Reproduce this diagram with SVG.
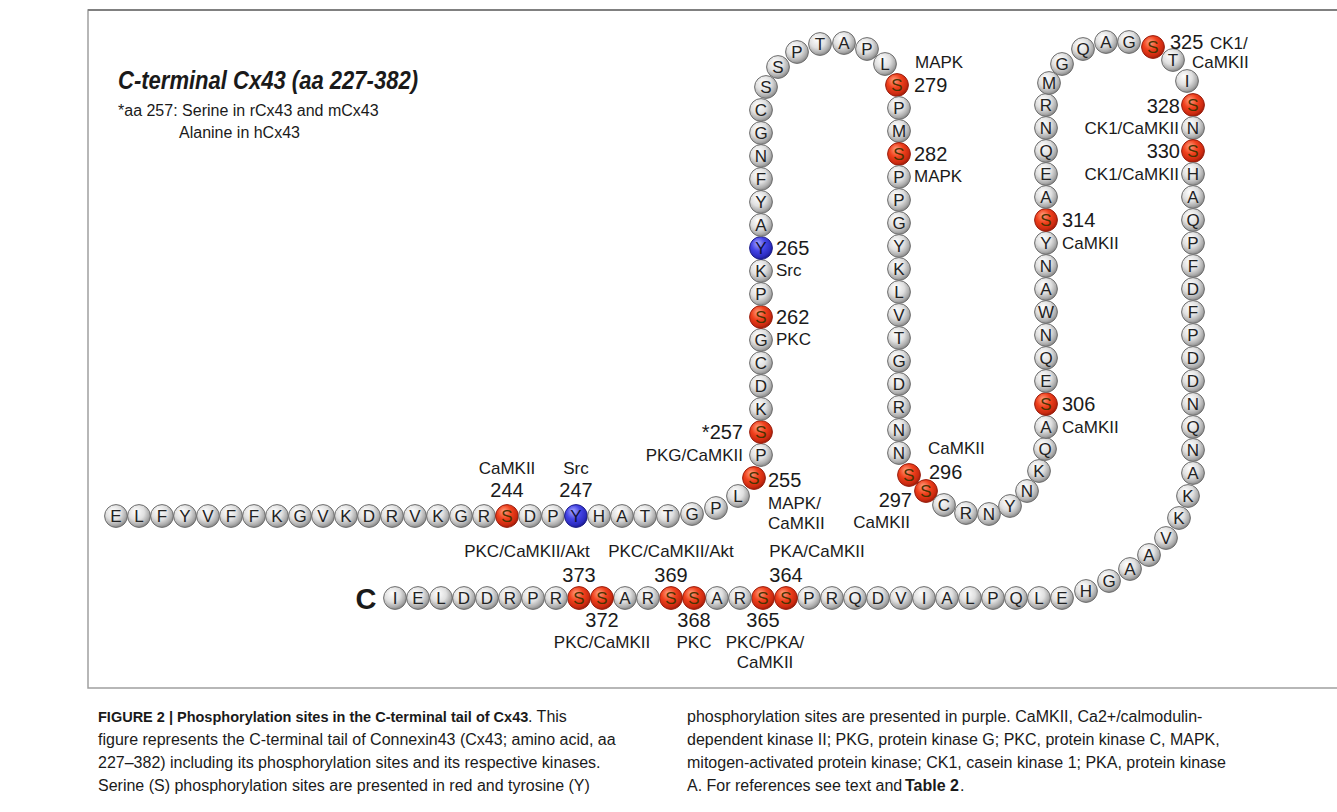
<svg xmlns="http://www.w3.org/2000/svg" width="1337" height="812" viewBox="0 0 1337 812">
<defs>
<radialGradient id="gg" cx="0.42" cy="0.38" r="0.62" fx="0.36" fy="0.28">
<stop offset="0" stop-color="#ffffff"/><stop offset="0.55" stop-color="#e0e0e0"/><stop offset="0.85" stop-color="#aeaeae"/><stop offset="1" stop-color="#888888"/>
</radialGradient>
<radialGradient id="gr" cx="0.42" cy="0.38" r="0.62" fx="0.36" fy="0.28">
<stop offset="0" stop-color="#ffa080"/><stop offset="0.5" stop-color="#f0401c"/><stop offset="0.85" stop-color="#cc2a10"/><stop offset="1" stop-color="#a01c08"/>
</radialGradient>
<radialGradient id="gu" cx="0.42" cy="0.38" r="0.62" fx="0.36" fy="0.28">
<stop offset="0" stop-color="#a8a8ff"/><stop offset="0.5" stop-color="#4444e6"/><stop offset="0.85" stop-color="#2c2cc0"/><stop offset="1" stop-color="#1c1c90"/>
</radialGradient>
</defs>
<style>
text{font-family:"Liberation Sans",Arial,sans-serif;fill:#1a1a1a}
.bd circle{stroke:#6e6e6e;stroke-width:1}
.g circle{fill:url(#gg)}
.r circle{fill:url(#gr);stroke:#9a2010}
.u circle{fill:url(#gu);stroke:#20208a}
.bd text{font-size:17px;text-anchor:middle;fill:#222}
.r text{fill:#4a3200}
.u text{fill:#10103a}
.num{font-size:20px}
.kin{font-size:17px}
.m{text-anchor:middle}
.e{text-anchor:end}
.cap{font-size:16px;fill:#222}
.cap .b{font-weight:bold}
</style>
<rect width="1337" height="812" fill="#ffffff"/>
<path d="M1337 10 H88 V688 H1337" fill="none" stroke="#a0a0a0" stroke-width="1.5"/>
<line x1="88" y1="10" x2="1337" y2="10" stroke="#808080" stroke-width="2"/>
<g id="title">
<text x="118" y="89" font-size="26" font-weight="bold" font-style="italic" textLength="300" lengthAdjust="spacingAndGlyphs">C-terminal Cx43 (aa 227-382)</text>
<text x="118" y="116" font-size="16">*aa 257: Serine in rCx43 and mCx43</text>
<text x="179" y="138" font-size="16">Alanine in hCx43</text>
</g>
<g id="beads">
<g id="aa227" class="bd g"><circle cx="116" cy="516" r="11.4"/><text x="116" y="522">E</text></g>
<g id="aa228" class="bd g"><circle cx="139" cy="516" r="11.4"/><text x="139" y="522">L</text></g>
<g id="aa229" class="bd g"><circle cx="162" cy="516" r="11.4"/><text x="162" y="522">F</text></g>
<g id="aa230" class="bd g"><circle cx="185" cy="516" r="11.4"/><text x="185" y="522">Y</text></g>
<g id="aa231" class="bd g"><circle cx="208" cy="516" r="11.4"/><text x="208" y="522">V</text></g>
<g id="aa232" class="bd g"><circle cx="231" cy="516" r="11.4"/><text x="231" y="522">F</text></g>
<g id="aa233" class="bd g"><circle cx="254" cy="516" r="11.4"/><text x="254" y="522">F</text></g>
<g id="aa234" class="bd g"><circle cx="277" cy="516" r="11.4"/><text x="277" y="522">K</text></g>
<g id="aa235" class="bd g"><circle cx="300" cy="516" r="11.4"/><text x="300" y="522">G</text></g>
<g id="aa236" class="bd g"><circle cx="323" cy="516" r="11.4"/><text x="323" y="522">V</text></g>
<g id="aa237" class="bd g"><circle cx="346" cy="516" r="11.4"/><text x="346" y="522">K</text></g>
<g id="aa238" class="bd g"><circle cx="369" cy="516" r="11.4"/><text x="369" y="522">D</text></g>
<g id="aa239" class="bd g"><circle cx="392" cy="516" r="11.4"/><text x="392" y="522">R</text></g>
<g id="aa240" class="bd g"><circle cx="415" cy="516" r="11.4"/><text x="415" y="522">V</text></g>
<g id="aa241" class="bd g"><circle cx="438" cy="516" r="11.4"/><text x="438" y="522">K</text></g>
<g id="aa242" class="bd g"><circle cx="461" cy="516" r="11.4"/><text x="461" y="522">G</text></g>
<g id="aa243" class="bd g"><circle cx="484" cy="516" r="11.4"/><text x="484" y="522">R</text></g>
<g id="aa244" class="bd r"><circle cx="507" cy="516" r="11.4"/><text x="507" y="522">S</text></g>
<g id="aa245" class="bd g"><circle cx="530" cy="516" r="11.4"/><text x="530" y="522">D</text></g>
<g id="aa246" class="bd g"><circle cx="553" cy="516" r="11.4"/><text x="553" y="522">P</text></g>
<g id="aa247" class="bd u"><circle cx="576" cy="516" r="11.4"/><text x="576" y="522">Y</text></g>
<g id="aa248" class="bd g"><circle cx="599" cy="516" r="11.4"/><text x="599" y="522">H</text></g>
<g id="aa249" class="bd g"><circle cx="622" cy="516" r="11.4"/><text x="622" y="522">A</text></g>
<g id="aa250" class="bd g"><circle cx="645" cy="516" r="11.4"/><text x="645" y="522">T</text></g>
<g id="aa251" class="bd g"><circle cx="668" cy="516" r="11.4"/><text x="668" y="522">T</text></g>
<g id="aa252" class="bd g"><circle cx="692" cy="514" r="11.4"/><text x="692" y="520">G</text></g>
<g id="aa253" class="bd g"><circle cx="716" cy="508" r="11.4"/><text x="716" y="514">P</text></g>
<g id="aa254" class="bd g"><circle cx="738" cy="496" r="11.4"/><text x="738" y="502">L</text></g>
<g id="aa255" class="bd r"><circle cx="754" cy="478" r="11.4"/><text x="754" y="484">S</text></g>
<g id="aa256" class="bd g"><circle cx="761" cy="455" r="11.4"/><text x="761" y="461">P</text></g>
<g id="aa257" class="bd r"><circle cx="761" cy="432" r="11.4"/><text x="761" y="438">S</text></g>
<g id="aa258" class="bd g"><circle cx="761" cy="409" r="11.4"/><text x="761" y="415">K</text></g>
<g id="aa259" class="bd g"><circle cx="761" cy="386" r="11.4"/><text x="761" y="392">D</text></g>
<g id="aa260" class="bd g"><circle cx="761" cy="363" r="11.4"/><text x="761" y="369">C</text></g>
<g id="aa261" class="bd g"><circle cx="761" cy="340" r="11.4"/><text x="761" y="346">G</text></g>
<g id="aa262" class="bd r"><circle cx="761" cy="317" r="11.4"/><text x="761" y="323">S</text></g>
<g id="aa263" class="bd g"><circle cx="761" cy="294" r="11.4"/><text x="761" y="300">P</text></g>
<g id="aa264" class="bd g"><circle cx="761" cy="271" r="11.4"/><text x="761" y="277">K</text></g>
<g id="aa265" class="bd u"><circle cx="761" cy="248" r="11.4"/><text x="761" y="254">Y</text></g>
<g id="aa266" class="bd g"><circle cx="761" cy="225" r="11.4"/><text x="761" y="231">A</text></g>
<g id="aa267" class="bd g"><circle cx="761" cy="202" r="11.4"/><text x="761" y="208">Y</text></g>
<g id="aa268" class="bd g"><circle cx="761" cy="179" r="11.4"/><text x="761" y="185">F</text></g>
<g id="aa269" class="bd g"><circle cx="761" cy="156" r="11.4"/><text x="761" y="162">N</text></g>
<g id="aa270" class="bd g"><circle cx="761" cy="133" r="11.4"/><text x="761" y="139">G</text></g>
<g id="aa271" class="bd g"><circle cx="761" cy="110" r="11.4"/><text x="761" y="116">C</text></g>
<g id="aa272" class="bd g"><circle cx="766" cy="87" r="11.4"/><text x="766" y="93">S</text></g>
<g id="aa273" class="bd g"><circle cx="778" cy="67" r="11.4"/><text x="778" y="73">S</text></g>
<g id="aa274" class="bd g"><circle cx="797" cy="52" r="11.4"/><text x="797" y="58">P</text></g>
<g id="aa275" class="bd g"><circle cx="820" cy="44" r="11.4"/><text x="820" y="50">T</text></g>
<g id="aa276" class="bd g"><circle cx="844" cy="43" r="11.4"/><text x="844" y="49">A</text></g>
<g id="aa277" class="bd g"><circle cx="867" cy="49" r="11.4"/><text x="867" y="55">P</text></g>
<g id="aa278" class="bd g"><circle cx="885" cy="64" r="11.4"/><text x="885" y="70">L</text></g>
<g id="aa279" class="bd r"><circle cx="897" cy="85" r="11.4"/><text x="897" y="91">S</text></g>
<g id="aa280" class="bd g"><circle cx="899" cy="108" r="11.4"/><text x="899" y="114">P</text></g>
<g id="aa281" class="bd g"><circle cx="899" cy="131" r="11.4"/><text x="899" y="137">M</text></g>
<g id="aa282" class="bd r"><circle cx="899" cy="154" r="11.4"/><text x="899" y="160">S</text></g>
<g id="aa283" class="bd g"><circle cx="899" cy="177" r="11.4"/><text x="899" y="183">P</text></g>
<g id="aa284" class="bd g"><circle cx="899" cy="200" r="11.4"/><text x="899" y="206">P</text></g>
<g id="aa285" class="bd g"><circle cx="899" cy="223" r="11.4"/><text x="899" y="229">G</text></g>
<g id="aa286" class="bd g"><circle cx="899" cy="246" r="11.4"/><text x="899" y="252">Y</text></g>
<g id="aa287" class="bd g"><circle cx="899" cy="269" r="11.4"/><text x="899" y="275">K</text></g>
<g id="aa288" class="bd g"><circle cx="899" cy="292" r="11.4"/><text x="899" y="298">L</text></g>
<g id="aa289" class="bd g"><circle cx="899" cy="315" r="11.4"/><text x="899" y="321">V</text></g>
<g id="aa290" class="bd g"><circle cx="899" cy="338" r="11.4"/><text x="899" y="344">T</text></g>
<g id="aa291" class="bd g"><circle cx="899" cy="361" r="11.4"/><text x="899" y="367">G</text></g>
<g id="aa292" class="bd g"><circle cx="899" cy="384" r="11.4"/><text x="899" y="390">D</text></g>
<g id="aa293" class="bd g"><circle cx="899" cy="407" r="11.4"/><text x="899" y="413">R</text></g>
<g id="aa294" class="bd g"><circle cx="899" cy="430" r="11.4"/><text x="899" y="436">N</text></g>
<g id="aa295" class="bd g"><circle cx="899" cy="453" r="11.4"/><text x="899" y="459">N</text></g>
<g id="aa296" class="bd r"><circle cx="909" cy="475" r="11.4"/><text x="909" y="481">S</text></g>
<g id="aa297" class="bd r"><circle cx="926" cy="491" r="11.4"/><text x="926" y="497">S</text></g>
<g id="aa298" class="bd g"><circle cx="944" cy="505" r="11.4"/><text x="944" y="511">C</text></g>
<g id="aa299" class="bd g"><circle cx="966" cy="513" r="11.4"/><text x="966" y="519">R</text></g>
<g id="aa300" class="bd g"><circle cx="989" cy="514" r="11.4"/><text x="989" y="520">N</text></g>
<g id="aa301" class="bd g"><circle cx="1010" cy="506" r="11.4"/><text x="1010" y="512">Y</text></g>
<g id="aa302" class="bd g"><circle cx="1027" cy="491" r="11.4"/><text x="1027" y="497">N</text></g>
<g id="aa303" class="bd g"><circle cx="1039" cy="471" r="11.4"/><text x="1039" y="477">K</text></g>
<g id="aa304" class="bd g"><circle cx="1045" cy="449" r="11.4"/><text x="1045" y="455">Q</text></g>
<g id="aa305" class="bd g"><circle cx="1046" cy="427" r="11.4"/><text x="1046" y="433">A</text></g>
<g id="aa306" class="bd r"><circle cx="1046" cy="404" r="11.4"/><text x="1046" y="410">S</text></g>
<g id="aa307" class="bd g"><circle cx="1046" cy="381" r="11.4"/><text x="1046" y="387">E</text></g>
<g id="aa308" class="bd g"><circle cx="1046" cy="358" r="11.4"/><text x="1046" y="364">Q</text></g>
<g id="aa309" class="bd g"><circle cx="1046" cy="335" r="11.4"/><text x="1046" y="341">N</text></g>
<g id="aa310" class="bd g"><circle cx="1046" cy="312" r="11.4"/><text x="1046" y="318">W</text></g>
<g id="aa311" class="bd g"><circle cx="1046" cy="289" r="11.4"/><text x="1046" y="295">A</text></g>
<g id="aa312" class="bd g"><circle cx="1046" cy="266" r="11.4"/><text x="1046" y="272">N</text></g>
<g id="aa313" class="bd g"><circle cx="1046" cy="243" r="11.4"/><text x="1046" y="249">Y</text></g>
<g id="aa314" class="bd r"><circle cx="1046" cy="220" r="11.4"/><text x="1046" y="226">S</text></g>
<g id="aa315" class="bd g"><circle cx="1046" cy="197" r="11.4"/><text x="1046" y="203">A</text></g>
<g id="aa316" class="bd g"><circle cx="1046" cy="174" r="11.4"/><text x="1046" y="180">E</text></g>
<g id="aa317" class="bd g"><circle cx="1046" cy="151" r="11.4"/><text x="1046" y="157">Q</text></g>
<g id="aa318" class="bd g"><circle cx="1046" cy="128" r="11.4"/><text x="1046" y="134">N</text></g>
<g id="aa319" class="bd g"><circle cx="1046" cy="105" r="11.4"/><text x="1046" y="111">R</text></g>
<g id="aa320" class="bd g"><circle cx="1049" cy="83" r="11.4"/><text x="1049" y="89">M</text></g>
<g id="aa321" class="bd g"><circle cx="1062" cy="64" r="11.4"/><text x="1062" y="70">G</text></g>
<g id="aa322" class="bd g"><circle cx="1083" cy="49" r="11.4"/><text x="1083" y="55">Q</text></g>
<g id="aa323" class="bd g"><circle cx="1106" cy="42" r="11.4"/><text x="1106" y="48">A</text></g>
<g id="aa324" class="bd g"><circle cx="1129" cy="42" r="11.4"/><text x="1129" y="48">G</text></g>
<g id="aa325" class="bd r"><circle cx="1153" cy="47" r="11.4"/><text x="1153" y="53">S</text></g>
<g id="aa326" class="bd g"><circle cx="1173" cy="60" r="11.4"/><text x="1173" y="66">T</text></g>
<g id="aa327" class="bd g"><circle cx="1187" cy="81" r="11.4"/><text x="1187" y="87">I</text></g>
<g id="aa328" class="bd r"><circle cx="1193" cy="105" r="11.4"/><text x="1193" y="111">S</text></g>
<g id="aa329" class="bd g"><circle cx="1193" cy="128" r="11.4"/><text x="1193" y="134">N</text></g>
<g id="aa330" class="bd r"><circle cx="1193" cy="151" r="11.4"/><text x="1193" y="157">S</text></g>
<g id="aa331" class="bd g"><circle cx="1193" cy="174" r="11.4"/><text x="1193" y="180">H</text></g>
<g id="aa332" class="bd g"><circle cx="1193" cy="197" r="11.4"/><text x="1193" y="203">A</text></g>
<g id="aa333" class="bd g"><circle cx="1193" cy="220" r="11.4"/><text x="1193" y="226">Q</text></g>
<g id="aa334" class="bd g"><circle cx="1193" cy="243" r="11.4"/><text x="1193" y="249">P</text></g>
<g id="aa335" class="bd g"><circle cx="1193" cy="266" r="11.4"/><text x="1193" y="272">F</text></g>
<g id="aa336" class="bd g"><circle cx="1193" cy="289" r="11.4"/><text x="1193" y="295">D</text></g>
<g id="aa337" class="bd g"><circle cx="1193" cy="312" r="11.4"/><text x="1193" y="318">F</text></g>
<g id="aa338" class="bd g"><circle cx="1193" cy="335" r="11.4"/><text x="1193" y="341">P</text></g>
<g id="aa339" class="bd g"><circle cx="1193" cy="358" r="11.4"/><text x="1193" y="364">D</text></g>
<g id="aa340" class="bd g"><circle cx="1193" cy="381" r="11.4"/><text x="1193" y="387">D</text></g>
<g id="aa341" class="bd g"><circle cx="1193" cy="404" r="11.4"/><text x="1193" y="410">N</text></g>
<g id="aa342" class="bd g"><circle cx="1193" cy="427" r="11.4"/><text x="1193" y="433">Q</text></g>
<g id="aa343" class="bd g"><circle cx="1193" cy="450" r="11.4"/><text x="1193" y="456">N</text></g>
<g id="aa344" class="bd g"><circle cx="1193" cy="473" r="11.4"/><text x="1193" y="479">A</text></g>
<g id="aa345" class="bd g"><circle cx="1188" cy="496" r="11.4"/><text x="1188" y="502">K</text></g>
<g id="aa346" class="bd g"><circle cx="1179" cy="518" r="11.4"/><text x="1179" y="524">K</text></g>
<g id="aa347" class="bd g"><circle cx="1166" cy="538" r="11.4"/><text x="1166" y="544">V</text></g>
<g id="aa348" class="bd g"><circle cx="1149" cy="555" r="11.4"/><text x="1149" y="561">A</text></g>
<g id="aa349" class="bd g"><circle cx="1130" cy="569" r="11.4"/><text x="1130" y="575">A</text></g>
<g id="aa350" class="bd g"><circle cx="1109" cy="581" r="11.4"/><text x="1109" y="587">G</text></g>
<g id="aa351" class="bd g"><circle cx="1086" cy="591" r="11.4"/><text x="1086" y="597">H</text></g>
<g id="aa352" class="bd g"><circle cx="1062" cy="598" r="11.4"/><text x="1062" y="604">E</text></g>
<g id="aa353" class="bd g"><circle cx="1039" cy="598" r="11.4"/><text x="1039" y="604">L</text></g>
<g id="aa354" class="bd g"><circle cx="1016" cy="598" r="11.4"/><text x="1016" y="604">Q</text></g>
<g id="aa355" class="bd g"><circle cx="993" cy="598" r="11.4"/><text x="993" y="604">P</text></g>
<g id="aa356" class="bd g"><circle cx="970" cy="598" r="11.4"/><text x="970" y="604">L</text></g>
<g id="aa357" class="bd g"><circle cx="947" cy="598" r="11.4"/><text x="947" y="604">A</text></g>
<g id="aa358" class="bd g"><circle cx="924" cy="598" r="11.4"/><text x="924" y="604">I</text></g>
<g id="aa359" class="bd g"><circle cx="901" cy="598" r="11.4"/><text x="901" y="604">V</text></g>
<g id="aa360" class="bd g"><circle cx="878" cy="598" r="11.4"/><text x="878" y="604">D</text></g>
<g id="aa361" class="bd g"><circle cx="855" cy="598" r="11.4"/><text x="855" y="604">Q</text></g>
<g id="aa362" class="bd g"><circle cx="832" cy="598" r="11.4"/><text x="832" y="604">R</text></g>
<g id="aa363" class="bd g"><circle cx="809" cy="598" r="11.4"/><text x="809" y="604">P</text></g>
<g id="aa364" class="bd r"><circle cx="786" cy="598" r="11.4"/><text x="786" y="604">S</text></g>
<g id="aa365" class="bd r"><circle cx="763" cy="598" r="11.4"/><text x="763" y="604">S</text></g>
<g id="aa366" class="bd g"><circle cx="740" cy="598" r="11.4"/><text x="740" y="604">R</text></g>
<g id="aa367" class="bd g"><circle cx="717" cy="598" r="11.4"/><text x="717" y="604">A</text></g>
<g id="aa368" class="bd r"><circle cx="694" cy="598" r="11.4"/><text x="694" y="604">S</text></g>
<g id="aa369" class="bd r"><circle cx="671" cy="598" r="11.4"/><text x="671" y="604">S</text></g>
<g id="aa370" class="bd g"><circle cx="648" cy="598" r="11.4"/><text x="648" y="604">R</text></g>
<g id="aa371" class="bd g"><circle cx="625" cy="598" r="11.4"/><text x="625" y="604">A</text></g>
<g id="aa372" class="bd r"><circle cx="602" cy="598" r="11.4"/><text x="602" y="604">S</text></g>
<g id="aa373" class="bd r"><circle cx="579" cy="598" r="11.4"/><text x="579" y="604">S</text></g>
<g id="aa374" class="bd g"><circle cx="556" cy="598" r="11.4"/><text x="556" y="604">R</text></g>
<g id="aa375" class="bd g"><circle cx="533" cy="598" r="11.4"/><text x="533" y="604">P</text></g>
<g id="aa376" class="bd g"><circle cx="510" cy="598" r="11.4"/><text x="510" y="604">R</text></g>
<g id="aa377" class="bd g"><circle cx="487" cy="598" r="11.4"/><text x="487" y="604">D</text></g>
<g id="aa378" class="bd g"><circle cx="464" cy="598" r="11.4"/><text x="464" y="604">D</text></g>
<g id="aa379" class="bd g"><circle cx="441" cy="598" r="11.4"/><text x="441" y="604">L</text></g>
<g id="aa380" class="bd g"><circle cx="418" cy="598" r="11.4"/><text x="418" y="604">E</text></g>
<g id="aa381" class="bd g"><circle cx="395" cy="598" r="11.4"/><text x="395" y="604">I</text></g>
</g>
<g id="cterm"><text x="366" y="609" font-size="29" font-weight="bold" class="m">C</text></g>
<g id="labels">
<text x="507" y="474" class="kin m">CaMKII</text><text x="507" y="497" class="num m">244</text>
<text x="576" y="474" class="kin m">Src</text><text x="576" y="497" class="num m">247</text>
<text x="776" y="255" class="num">265</text><text x="776" y="276" class="kin">Src</text>
<text x="776" y="324" class="num">262</text><text x="776" y="345" class="kin">PKC</text>
<text x="743" y="439" class="num e">*257</text><text x="743" y="461" class="kin e">PKG/CaMKII</text>
<text x="768" y="487" class="num">255</text><text x="768" y="509" class="kin">MAPK/</text><text x="768" y="529" class="kin">CaMKII</text>
<text x="915" y="68" class="kin">MAPK</text><text x="914" y="92" class="num">279</text>
<text x="914" y="161" class="num">282</text><text x="914" y="182" class="kin">MAPK</text>
<text x="928" y="454" class="kin">CaMKII</text><text x="929" y="479" class="num">296</text>
<text x="912" y="507" class="num e">297</text><text x="910" y="528" class="kin e">CaMKII</text>
<text x="1062" y="227" class="num">314</text><text x="1062" y="249" class="kin">CaMKII</text>
<text x="1062" y="411" class="num">306</text><text x="1062" y="433" class="kin">CaMKII</text>
<text x="1170" y="49" class="num">325</text><text x="1210" y="49" class="kin">CK1/</text><text x="1192" y="68" class="kin">CaMKII</text>
<text x="1180" y="113" class="num e">328</text><text x="1179" y="134" class="kin e">CK1/CaMKII</text>
<text x="1180" y="158" class="num e">330</text><text x="1179" y="180" class="kin e">CK1/CaMKII</text>
<text x="527" y="557" class="kin m">PKC/CaMKII/Akt</text><text x="579" y="582" class="num m">373</text>
<text x="671" y="557" class="kin m">PKC/CaMKII/Akt</text><text x="671" y="582" class="num m">369</text>
<text x="817" y="557" class="kin m">PKA/CaMKII</text><text x="786" y="582" class="num m">364</text>
<text x="602" y="627" class="num m">372</text><text x="602" y="648" class="kin m">PKC/CaMKII</text>
<text x="694" y="627" class="num m">368</text><text x="694" y="648" class="kin m">PKC</text>
<text x="763" y="627" class="num m">365</text><text x="765" y="648" class="kin m">PKC/PKA/</text><text x="765" y="668" class="kin m">CaMKII</text>
</g>
<g id="caption" class="cap">
<text x="98" y="722" class="b" font-size="14.5">FIGURE 2 | Phosphorylation sites in the C-terminal tail of Cx43</text>
<text x="528" y="722">. This</text>
<text x="98" y="745">figure represents the C-terminal tail of Connexin43 (Cx43; amino acid, aa</text>
<text x="98" y="768">227–382) including its phosphorylation sites and its respective kinases.</text>
<text x="98" y="791">Serine (S) phosphorylation sites are presented in red and tyrosine (Y)</text>
<text x="687" y="722">phosphorylation sites are presented in purple. CaMKII, Ca2+/calmodulin-</text>
<text x="687" y="745">dependent kinase II; PKG, protein kinase G; PKC, protein kinase C, MAPK,</text>
<text x="687" y="768">mitogen-activated protein kinase; CK1, casein kinase 1; PKA, protein kinase</text>
<text x="687" y="791">A. For references see text and</text>
<text x="905" y="791" class="b">Table 2</text>
<text x="960" y="791">.</text>
</g>
</svg>
